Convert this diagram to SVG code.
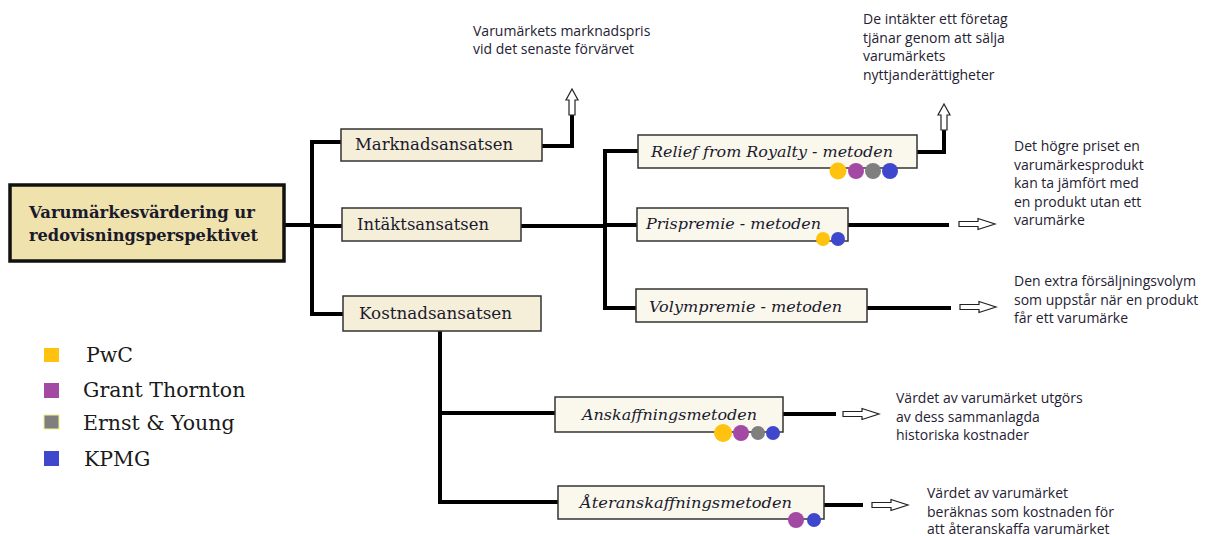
<svg xmlns="http://www.w3.org/2000/svg" xmlns:xlink="http://www.w3.org/1999/xlink" width="1207" height="536" viewBox="0 0 1207 536">
<style>
.bg{fill:#ffffff}
.main{fill:#efe2ad;stroke:#111;stroke-width:3.5}
.appr{fill:#f5eed8;stroke:#333;stroke-width:1.5}
.meth{fill:#faf8ec;stroke:#333;stroke-width:1.5}
.t-main{font-family:"DejaVu Serif","Liberation Serif",serif;font-weight:bold;font-size:16px;fill:#1a1a2a}
.t-appr{font-family:"DejaVu Serif","Liberation Serif",serif;font-size:16.5px;fill:#1a1a2e}
.t-meth{font-family:"DejaVu Serif","Liberation Serif",serif;font-style:italic;font-size:15.5px;fill:#1a1a2e}
.t-leg{font-family:"DejaVu Serif","Liberation Serif",serif;font-size:20.5px;fill:#1a1a1a}
.t-note{font-family:"Open Sans","Noto Sans","Liberation Sans",sans-serif;font-size:14px;fill:#1f2233}
.conn{fill:none;stroke:#000;stroke-width:4;stroke-linecap:square}
.harrow{fill:#fff;stroke:#222;stroke-width:1.2;stroke-linejoin:miter}
.cy{fill:#ffc30f}.cp{fill:#a349a4}.cg{fill:#7f7f7f}.cb{fill:#3f48cc}
</style>
<defs>
<path id="arrR" d="M0,-2.5 H19 V-5.5 L36,0 L19,5.5 V2.5 H0 Z"/>
<path id="arrU" d="M-3,0 V-15 H-6 L0,-26 L6,-15 H3 V0 Z"/>
</defs>
<rect class="bg" x="0" y="0" width="1207" height="536"/>

<g id="connectors">
<polyline class="conn" points="285,225 312,225"/>
<polyline class="conn" points="341,142 312,142 312,314 343,314"/>
<polyline class="conn" points="312,226 342,226"/>
<polyline class="conn" points="542,146 572,146 572,117"/>
<polyline class="conn" points="521,226 605,226"/>
<polyline class="conn" points="638,151 605,151 605,308 636,308"/>
<polyline class="conn" points="605,225 637,225"/>
<polyline class="conn" points="917,152 944,152 944,130"/>
<polyline class="conn" points="848,225 947,225"/>
<polyline class="conn" points="867,308 949,308"/>
<polyline class="conn" points="440,331 440,502 558,502"/>
<polyline class="conn" points="440,413 555,413"/>
<polyline class="conn" points="783,414 834,414"/>
<polyline class="conn" points="824,505 861,505"/>
<use href="#arrU" class="harrow" x="572" y="115"/>
<use href="#arrU" class="harrow" x="944" y="130"/>
<use href="#arrR" class="harrow" x="959" y="224"/>
<use href="#arrR" class="harrow" x="960" y="307"/>
<use href="#arrR" class="harrow" x="843" y="414"/>
<use href="#arrR" class="harrow" x="872" y="505"/>
</g>

<g id="root">
<rect class="main" x="10" y="185" width="274" height="76"/>
<text class="t-main" x="29" y="218" textLength="226" lengthAdjust="spacingAndGlyphs">Varumärkesvärdering ur</text>
<text class="t-main" x="29" y="241" textLength="229" lengthAdjust="spacingAndGlyphs">redovisningsperspektivet</text>
</g>

<g id="marknad">
<rect class="appr" x="341" y="129" width="201" height="32"/>
<text class="t-appr" x="355" y="150" textLength="158" lengthAdjust="spacingAndGlyphs">Marknadsansatsen</text>
</g>
<g id="intakt">
<rect class="appr" x="342" y="208" width="179" height="33"/>
<text class="t-appr" x="357" y="230" textLength="132" lengthAdjust="spacingAndGlyphs">Intäktsansatsen</text>
</g>
<g id="kostnad">
<rect class="appr" x="343" y="296" width="198" height="35"/>
<text class="t-appr" x="359" y="319" textLength="153" lengthAdjust="spacingAndGlyphs">Kostnadsansatsen</text>
</g>

<g id="relief">
<rect class="meth" x="638" y="135" width="279" height="33"/>
<text class="t-meth" x="651" y="157" textLength="242" lengthAdjust="spacingAndGlyphs">Relief from Royalty - metoden</text>
<circle class="cy" cx="838" cy="171" r="8.5"/>
<circle class="cp" cx="856" cy="171" r="8"/>
<circle class="cg" cx="873" cy="171" r="8"/>
<circle class="cb" cx="890" cy="171" r="8"/>
</g>
<g id="prispremie">
<rect class="meth" x="637" y="208" width="211" height="33"/>
<text class="t-meth" x="646" y="229" textLength="175" lengthAdjust="spacingAndGlyphs">Prispremie - metoden</text>
<circle class="cy" cx="823" cy="239" r="7"/>
<circle class="cb" cx="838" cy="239" r="7"/>
</g>
<g id="volympremie">
<rect class="meth" x="636" y="289" width="231" height="33"/>
<text class="t-meth" x="649" y="312" textLength="193" lengthAdjust="spacingAndGlyphs">Volympremie - metoden</text>
</g>
<g id="anskaffning">
<rect class="meth" x="555" y="397" width="228" height="35"/>
<text class="t-meth" x="582" y="420" textLength="175" lengthAdjust="spacingAndGlyphs">Anskaffningsmetoden</text>
<circle class="cy" cx="723" cy="433" r="9"/>
<circle class="cp" cx="741" cy="433" r="8"/>
<circle class="cg" cx="758" cy="433" r="7"/>
<circle class="cb" cx="773" cy="433" r="7"/>
</g>
<g id="ateranskaffning">
<rect class="meth" x="558" y="486" width="266" height="33"/>
<text class="t-meth" x="580" y="508" textLength="212" lengthAdjust="spacingAndGlyphs">Återanskaffningsmetoden</text>
<circle class="cp" cx="796" cy="520" r="8"/>
<circle class="cb" cx="814" cy="520" r="7"/>
</g>

<g id="note-marknad">
<text class="t-note" x="473" y="36">Varumärkets marknadspris</text>
<text class="t-note" x="473" y="54">vid det senaste förvärvet</text>
</g>
<g id="note-relief">
<text class="t-note" x="863" y="24">De intäkter ett företag</text>
<text class="t-note" x="863" y="42.5">tjänar genom att sälja</text>
<text class="t-note" x="863" y="61">varumärkets</text>
<text class="t-note" x="863" y="79.5">nyttjanderättigheter</text>
</g>
<g id="note-pris">
<text class="t-note" x="1014" y="151">Det högre priset en</text>
<text class="t-note" x="1014" y="169.5">varumärkesprodukt</text>
<text class="t-note" x="1014" y="188">kan ta jämfört med</text>
<text class="t-note" x="1014" y="206.5">en produkt utan ett</text>
<text class="t-note" x="1014" y="225">varumärke</text>
</g>
<g id="note-volym">
<text class="t-note" x="1014" y="286">Den extra försäljningsvolym</text>
<text class="t-note" x="1014" y="304.5">som uppstår när en produkt</text>
<text class="t-note" x="1014" y="323">får ett varumärke</text>
</g>
<g id="note-anskaff">
<text class="t-note" x="896" y="403">Värdet av varumärket utgörs</text>
<text class="t-note" x="896" y="421.5">av dess sammanlagda</text>
<text class="t-note" x="896" y="440">historiska kostnader</text>
</g>
<g id="note-ater">
<text class="t-note" x="927" y="498">Värdet av varumärket</text>
<text class="t-note" x="927" y="516.5">beräknas som kostnaden för</text>
<text class="t-note" x="927" y="534">att återanskaffa varumärket</text>
</g>

<g id="legend">
<rect class="cy" x="44" y="348" width="15" height="14"/>
<rect class="cp" x="44" y="383" width="15" height="15"/>
<rect class="cg" x="44" y="415" width="15" height="14" stroke="#f4f08a" stroke-width="1"/>
<rect class="cb" x="44" y="451" width="15" height="15"/>
<text class="t-leg" x="86" y="362">PwC</text>
<text class="t-leg" x="83" y="397">Grant Thornton</text>
<text class="t-leg" x="83" y="430">Ernst &amp; Young</text>
<text class="t-leg" x="84" y="466">KPMG</text>
</g>
</svg>
